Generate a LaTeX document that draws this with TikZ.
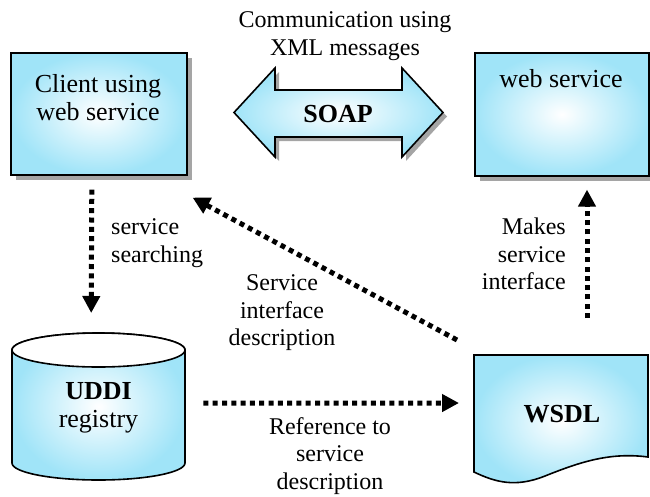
\documentclass[tikz,border=0pt]{standalone}
\usepackage{fontspec}
\setmainfont{Liberation Serif}
\newfontfamily\tnr{Liberation Serif}
\usetikzlibrary{arrows.meta,shadows}
\definecolor{cy}{RGB}{160,228,248}
\definecolor{shgray}{RGB}{165,165,165}
\begin{document}
\begin{tikzpicture}[x=1pt,y=-1pt,
  box/.style={draw=black,line width=1.6pt,shading=radial,inner color=white,outer color=cy,
    inner sep=0pt,anchor=north west},
  boxshadow/.style={drop shadow={shadow xshift=5pt,shadow yshift=-5pt,fill=shgray,opacity=1}},
  boxtxt/.style={font=\tnr\fontsize{26}{28}\selectfont,align=center,inner sep=0pt},
  boldtxt/.style={font=\tnr\bfseries\fontsize{26}{28}\selectfont,inner sep=0pt,anchor=base},
  lbl/.style={font=\tnr\fontsize{24}{27.5}\selectfont,inner sep=0pt},
  ghost/.style={inner sep=0pt,anchor=north west},
  dotarrow/.style={line width=5pt,dash pattern=on 5pt off 4.3pt,
    -{Triangle[length=17pt,width=17pt]}},
  outline/.style={draw=black,line width=1.6pt}
]
\useasboundingbox (0,0) rectangle (650,496);

% Client box
\node[box,boxshadow,minimum width=176pt,minimum height=122pt] (client) at (10,52) {};
\node[boxtxt] (clienttxt) at (98,98) {Client using\\web service};

% Web service box
\node[box,boxshadow,minimum width=174pt,minimum height=123pt] (web) at (474,52) {};
\node[boxtxt,anchor=base] (webtxt) at (561,87) {web service};

% SOAP double arrow
\fill[shgray] (238,116.5) -- (279,72) -- (279,94) -- (406,94) -- (406,72) -- (447,116.5)
  -- (406,161) -- (406,141) -- (279,141) -- (279,161) -- cycle;
\path[outline,shading=radial,inner color=white,outer color=cy]
  (234,112.5) -- (275,68) -- (275,90) -- (402,90) -- (402,68) -- (443,112.5)
  -- (402,157) -- (402,137) -- (275,137) -- (275,157) -- cycle;
\node[boldtxt] (soap) at (338,122) {SOAP};
\node[lbl,align=center] (comm) at (345,36) {Communication using\\XML messages};

% UDDI cylinder
\node[ghost,minimum width=173pt,minimum height=147pt] (uddi) at (12,333) {};
\path[outline,shading=radial,inner color=white,outer color=cy]
  (12,350) -- (12,463) arc[start angle=180,end angle=360,x radius=86.5pt,y radius=17pt]
  -- (185,350) arc[start angle=0,end angle=180,x radius=86.5pt,y radius=17pt] -- cycle;
\draw[outline,fill=white] (98.5,350) ellipse[x radius=86.5pt,y radius=17pt];
\node[boxtxt] (uddittxt) at (98.5,408) {\textbf{UDDI}\\registry};

% WSDL document
\node[ghost,minimum width=174pt,minimum height=128pt] (wsdl) at (474,355) {};
\path[outline,shading=radial,inner color=white,outer color=cy]
  (474,355) -- (648,355) -- (648,457)
  .. controls (610,452) and (580,462) .. (545,476)
  .. controls (515,488) and (495,482) .. (474,472) -- cycle;
\node[boldtxt] (wsdltxt) at (562,422) {WSDL};

% Connectors
\draw[dotarrow] ([xshift=-7pt,yshift=-14pt]client.south) -- ([xshift=-7.5pt,yshift=20pt]uddi.north);
\node[lbl,align=left,anchor=west] (search) at (111,243) {service\\searching};

\draw[dotarrow] ([xshift=-17pt,yshift=15pt]wsdl.north west) -- ([xshift=5pt,yshift=-22pt]client.south east);
\node[lbl,align=center] (sid) at (282,313) {Service\\interface\\description};

\draw[dotarrow] ([xshift=113pt,yshift=37pt]wsdl.north west) -- ([xshift=113pt,yshift=-13pt]web.south west);
\node[lbl,align=right,anchor=east] (makes) at (566,254) {Makes\\service\\interface};

\draw[dotarrow] ([xshift=18pt,yshift=3.5pt]uddi.east) -- ([xshift=-15pt,yshift=-48pt]wsdl.north west);
\node[lbl,align=center] (ref) at (330,456) {Reference to\\service\\description};
\end{tikzpicture}
\end{document}
